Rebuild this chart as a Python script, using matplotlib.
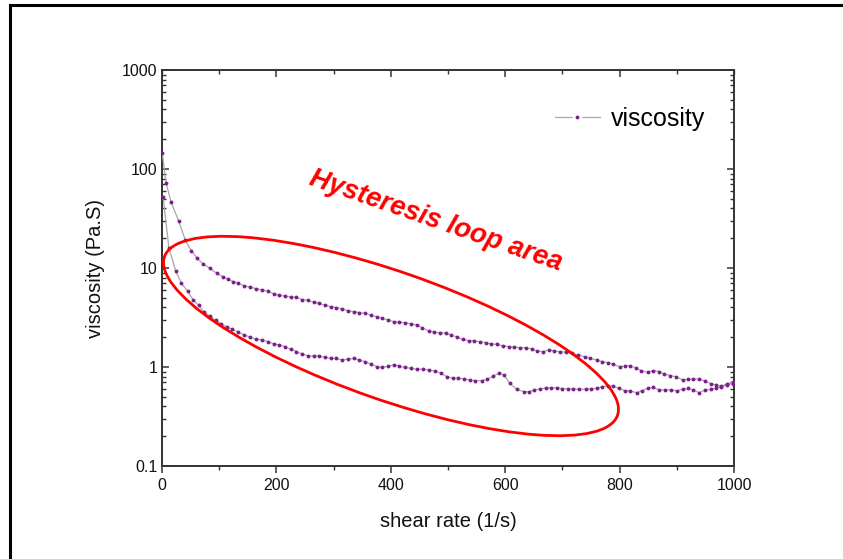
import matplotlib
matplotlib.use("Agg")
import matplotlib.pyplot as plt
from matplotlib.patches import Ellipse
from matplotlib.lines import Line2D
from matplotlib.transforms import IdentityTransform
from matplotlib.ticker import FixedLocator, NullFormatter, MultipleLocator

plt.rcParams['font.family'] = ['Liberation Sans', 'DejaVu Sans']

# up-ramp (upper branch)
up_x = [0.5, 7, 16, 29, 41, 51, 61, 72, 84, 96, 106, 115, 124, 133, 144, 154,
        165, 175, 185, 195, 205, 215, 225, 235, 245, 255, 265, 275, 285, 295,
        305, 315, 325, 335, 345, 355, 365, 375, 385, 395, 405, 415, 425, 435,
        445, 455, 466, 476, 486, 496, 506, 516, 526, 536, 546, 556, 566, 576,
        586, 596, 606, 616, 626, 636, 646, 656, 666, 676, 686, 696, 706, 716,
        727, 739, 749, 760, 770, 779, 789, 800, 809, 819, 829, 838, 849, 859,
        869, 878, 888, 898, 910, 919, 929, 939, 949, 959, 968, 978, 988, 998]
up_v = [145, 73, 46, 30, 19, 15, 12.6, 11, 9.9, 8.8, 8.2, 7.7, 7.3, 7.0, 6.6, 6.4,
        6.2, 6.0, 5.8, 5.5, 5.3, 5.2, 5.1, 5.06, 4.8, 4.7, 4.5, 4.4, 4.2, 4.07,
        3.98, 3.86, 3.71, 3.62, 3.54, 3.48, 3.35, 3.23, 3.1, 2.99, 2.87, 2.83, 2.81, 2.72,
        2.66, 2.48, 2.33, 2.24, 2.22, 2.19, 2.11, 1.99, 1.90, 1.85, 1.83, 1.80, 1.76, 1.71,
        1.69, 1.64, 1.61, 1.58, 1.57, 1.57, 1.52, 1.45, 1.43, 1.49, 1.45, 1.43, 1.41, 1.37,
        1.32, 1.27, 1.22, 1.18, 1.13, 1.11, 1.06, 1.01, 1.02, 1.03, 0.97, 0.92, 0.88, 0.92,
        0.90, 0.85, 0.82, 0.80, 0.74, 0.75, 0.75, 0.76, 0.72, 0.68, 0.66, 0.64, 0.68, 0.70]

# down-ramp (lower branch), listed by increasing shear rate
down_x = [2, 12, 24, 34, 45, 54, 64, 74, 84, 94, 104, 113, 123, 133, 143, 154,
          165, 175, 185, 195, 205, 215, 225, 235, 245, 255, 265, 275, 285, 295,
          305, 315, 325, 335, 345, 355, 365, 375, 385, 395, 405, 415, 425, 435,
          445, 457, 467, 477, 488, 498, 508, 518, 528, 538, 548, 559, 569, 579,
          589, 598, 608, 620, 632, 642, 651, 661, 671, 680, 690, 700, 709, 719,
          729, 741, 750, 760, 770, 779, 789, 799, 809, 819, 830, 839, 849, 859,
          869, 879, 890, 900, 910, 920, 929, 939, 949, 959, 968, 978, 988, 998]
down_v = [52, 16, 9.3, 7.0, 5.8, 4.8, 4.2, 3.6, 3.25, 2.95, 2.72, 2.55, 2.4, 2.25, 2.12, 2.0,
          1.905, 1.876, 1.80, 1.71, 1.67, 1.61, 1.51, 1.43, 1.355, 1.30, 1.29, 1.29, 1.25, 1.22,
          1.22, 1.18, 1.2, 1.22, 1.18, 1.13, 1.07, 1.01, 0.99, 1.02, 1.05, 1.02, 0.99, 0.97,
          0.95, 0.95, 0.933, 0.912, 0.863, 0.80, 0.77, 0.77, 0.757, 0.74, 0.728, 0.728, 0.751, 0.811,
          0.863, 0.83, 0.684, 0.595, 0.564, 0.564, 0.586, 0.60, 0.614, 0.618, 0.618, 0.604, 0.60, 0.60,
          0.596, 0.594, 0.60, 0.608, 0.632, 0.642, 0.642, 0.608, 0.577, 0.572, 0.55, 0.577, 0.608, 0.623,
          0.586, 0.586, 0.586, 0.577, 0.594, 0.608, 0.586, 0.55, 0.586, 0.594, 0.608, 0.632, 0.658, 0.68]

y_ticks = [0.1, 1, 10, 100, 1000]
y_labels = ['0.1', '1', '10', '100', '1000']

purple = '#7d1f8c'
gray = '#a8a8a8'

fig = plt.figure(figsize=(8.43, 5.59), dpi=100)
ax = fig.add_axes([162/843, 1 - 466/559, 572/843, 396/559])

xs = up_x + down_x[::-1]
vs = up_v + down_v[::-1]
ax.plot(xs, vs, color=gray, lw=0.9, marker='o', ms=2.8, mfc=purple, mec=purple,
        mew=0, zorder=3)

ax.set_yscale('log')
ax.set_xlim(0, 1000)
ax.set_ylim(0.1, 1000)
ax.xaxis.set_major_locator(MultipleLocator(200))
ax.xaxis.set_minor_locator(MultipleLocator(100))
ax.yaxis.set_major_locator(FixedLocator(y_ticks))
ax.set_yticklabels(y_labels)
ax.yaxis.set_minor_formatter(NullFormatter())

for s in ax.spines.values():
    s.set_color('#333333')
    s.set_linewidth(1.4)

ax.tick_params(axis='both', which='both', colors='#333333', labelcolor='#111111',
               labelsize=11.5)
ax.tick_params(axis='x', which='major', direction='out', length=5, width=1.1, top=False)
ax.tick_params(axis='x', which='minor', direction='out', length=3, width=1.0, top=False)
ax.tick_params(axis='y', which='major', direction='in', length=5, width=1.1, right=True)
ax.tick_params(axis='y', which='minor', direction='in', length=3, width=1.0, right=True)

# top ticks pointing inward
top = ax.secondary_xaxis('top')
top.set_xticks([200, 400, 600, 800])
top.xaxis.set_minor_locator(MultipleLocator(100))
top.tick_params(which='major', direction='in', length=5, width=1.1, labeltop=False, colors='#333333')
top.tick_params(which='minor', direction='in', length=3, width=1.0, colors='#333333')
top.spines['top'].set_visible(False)

ax.set_xlabel('shear rate (1/s)', fontsize=14.5, labelpad=14, color='#111111')
ax.set_ylabel('viscosity (Pa.S)', fontsize=14.5, labelpad=12, color='#111111')

handle = Line2D([], [], color=gray, lw=0.9, marker='o', ms=5, mfc=purple,
                mec='white', mew=2.2)
ax.legend([handle], ['viscosity'], loc='center left', bbox_to_anchor=(0.687, 0.876),
          frameon=False, fontsize=18, handlelength=1.8, handletextpad=0.45,
          borderpad=0, borderaxespad=0)

# annotation: ellipse and text in pixel space
ell = Ellipse((391, 559 - 336), width=480, height=128, angle=-19.3, fill=False,
              edgecolor='#ff0000', lw=2.0, transform=IdentityTransform(), zorder=5)
fig.add_artist(ell)
fig.text(436 / 843, 1 - 221 / 559, 'Hysteresis loop area', color='#ff0000',
         fontsize=19.5, fontweight='bold', fontstyle='italic', rotation=-19,
         rotation_mode='anchor', ha='center', va='center')

# outer frame (left and top edges)
fig.add_artist(Line2D([10/843, 10/843], [0, 1 - 5/559], color='black', lw=2.2,
                      transform=fig.transFigure))
fig.add_artist(Line2D([10/843, 1], [1 - 5/559, 1 - 5/559], color='black', lw=2.2,
                      transform=fig.transFigure))

fig.savefig('out.png', dpi=100)
